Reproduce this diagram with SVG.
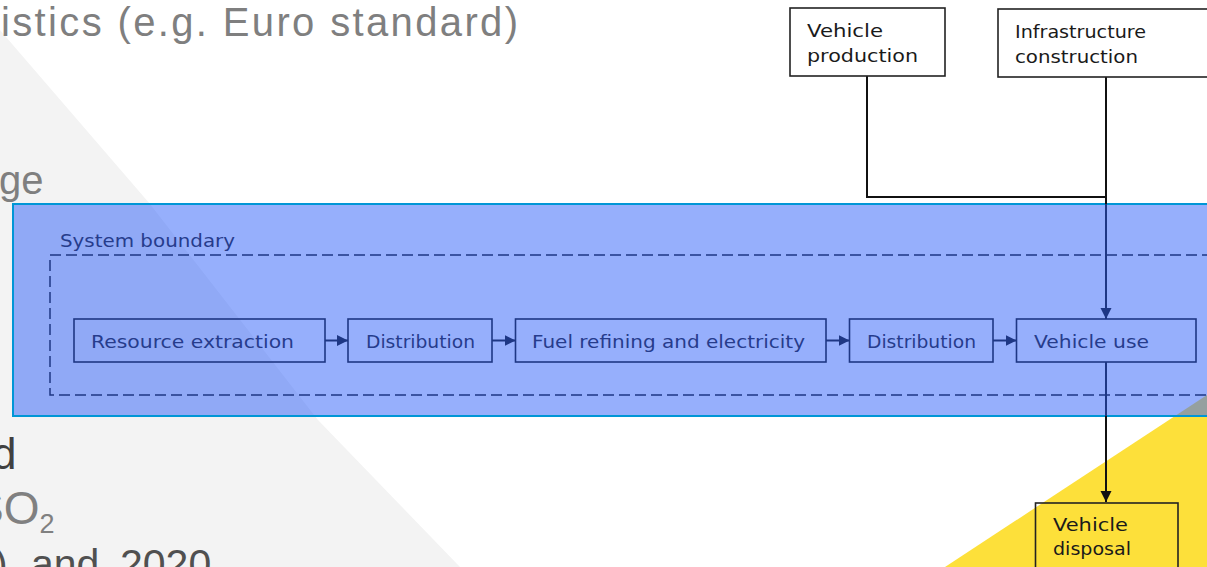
<svg xmlns="http://www.w3.org/2000/svg" width="1207" height="567" viewBox="0 0 1207 567">
<style>
.slide{font-family:"Liberation Sans",Arial,sans-serif}
.lbl{font-family:"DejaVu Sans","Liberation Sans",sans-serif;font-size:18px;fill:#263c8c}
.olbl{font-family:"DejaVu Sans","Liberation Sans",sans-serif;font-size:18px;fill:#1a1a1a}
.inbox{fill:none;stroke:#1e3784;stroke-width:1.6}
.outbox{fill:#ffffff;stroke:#222222;stroke-width:1.6}
.nav{fill:none;stroke:#1e3784;stroke-width:2}
.blk{fill:none;stroke:#111111;stroke-width:2}
</style>
<defs>
<marker id="aN" markerUnits="userSpaceOnUse" markerWidth="12" markerHeight="12" refX="11" refY="6" orient="auto"><path d="M0,0.5 L11,6 L0,11.5 z" fill="#1e3784"/></marker>
<marker id="aK" markerUnits="userSpaceOnUse" markerWidth="12" markerHeight="12" refX="11" refY="6" orient="auto"><path d="M0,0.5 L11,6 L0,11.5 z" fill="#111111"/></marker>
</defs>
<rect width="1207" height="567" fill="#ffffff"/>
<!-- slide background -->
<polygon points="0,30 150,204 318,420 460,567 0,567" fill="#f3f3f3"/>
<polygon points="945,567 1207,395 1207,567" fill="#fde03a"/>
<!-- slide text -->
<g class="slide">
<text x="1" y="36" font-size="40" fill="#7f7f7f" textLength="517" lengthAdjust="spacing">istics (e.g. Euro standard)</text>
<text x="-1" y="194" font-size="40" fill="#7f7f7f">ge</text>
<text x="-8" y="469" font-size="44" fill="#404040">d</text>
<text x="-27" y="524" font-size="46" fill="#808080">SO<tspan font-size="27" dy="9">2</tspan></text>
<text y="578" font-size="41" fill="#505050"><tspan x="-6">)</tspan><tspan x="31">and</tspan><tspan x="120">2020</tspan></text>
</g>
<!-- band -->
<rect id="band" x="13" y="204" width="1210" height="212" fill="rgb(56,104,250)" fill-opacity="0.53" stroke="#0096d6" stroke-width="2"/>
<g id="system-boundary">
<rect x="50" y="255" width="1180" height="140" fill="none" stroke="#1e3784" stroke-width="1.5" stroke-dasharray="11 5"/>
<text class="lbl" x="60" y="247" font-size="17" textLength="175" lengthAdjust="spacingAndGlyphs">System boundary</text>
</g>
<!-- connectors -->
<g id="connectors">
<line class="nav" x1="325" y1="340.5" x2="348" y2="340.5" marker-end="url(#aN)"/>
<line class="nav" x1="492" y1="340.5" x2="515.5" y2="340.5" marker-end="url(#aN)"/>
<line class="nav" x1="826" y1="340.5" x2="849.5" y2="340.5" marker-end="url(#aN)"/>
<line class="nav" x1="993" y1="340.5" x2="1016.5" y2="340.5" marker-end="url(#aN)"/>
<path class="blk" d="M867,76 V197 H1106 V204"/>
<path class="blk" d="M1106,77 V197"/>
<path class="nav" d="M1106,204 V319" marker-end="url(#aN)"/>
<path class="nav" d="M1106,362 V416"/>
<path class="blk" d="M1106,416 V502" marker-end="url(#aK)"/>
</g>
<!-- nodes -->
<g id="resource-extraction">
<rect class="inbox" x="74" y="319" width="251" height="43"/>
<text class="lbl" x="91" y="348" textLength="203" lengthAdjust="spacingAndGlyphs">Resource extraction</text>
</g>
<g id="distribution-1">
<rect class="inbox" x="348" y="319" width="144" height="43"/>
<text class="lbl" x="366" y="348" textLength="109" lengthAdjust="spacingAndGlyphs">Distribution</text>
</g>
<g id="fuel-refining">
<rect class="inbox" x="515.5" y="319" width="310.5" height="43"/>
<text class="lbl" x="532" y="348" textLength="273" lengthAdjust="spacingAndGlyphs">Fuel refining and electricity</text>
</g>
<g id="distribution-2">
<rect class="inbox" x="849.5" y="319" width="143.5" height="43"/>
<text class="lbl" x="867" y="348" textLength="109" lengthAdjust="spacingAndGlyphs">Distribution</text>
</g>
<g id="vehicle-use">
<rect class="inbox" x="1016.5" y="319" width="179.5" height="43"/>
<text class="lbl" x="1034" y="348" textLength="115" lengthAdjust="spacingAndGlyphs">Vehicle use</text>
</g>
<g id="vehicle-production">
<rect class="outbox" x="790" y="8" width="155" height="68"/>
<text class="olbl" x="807" y="37" textLength="76" lengthAdjust="spacingAndGlyphs">Vehicle</text>
<text class="olbl" x="807" y="62" textLength="111" lengthAdjust="spacingAndGlyphs">production</text>
</g>
<g id="infrastructure-construction">
<rect class="outbox" x="998" y="9" width="230" height="68"/>
<text class="olbl" x="1015" y="38" textLength="131" lengthAdjust="spacingAndGlyphs">Infrastructure</text>
<text class="olbl" x="1015" y="63" textLength="123" lengthAdjust="spacingAndGlyphs">construction</text>
</g>
<g id="vehicle-disposal">
<rect x="1035.5" y="503" width="142.5" height="80" fill="none" stroke="#222222" stroke-width="1.6"/>
<text class="olbl" x="1053" y="531" textLength="75" lengthAdjust="spacingAndGlyphs">Vehicle</text>
<text class="olbl" x="1053" y="555" textLength="78" lengthAdjust="spacingAndGlyphs">disposal</text>
</g>
</svg>
